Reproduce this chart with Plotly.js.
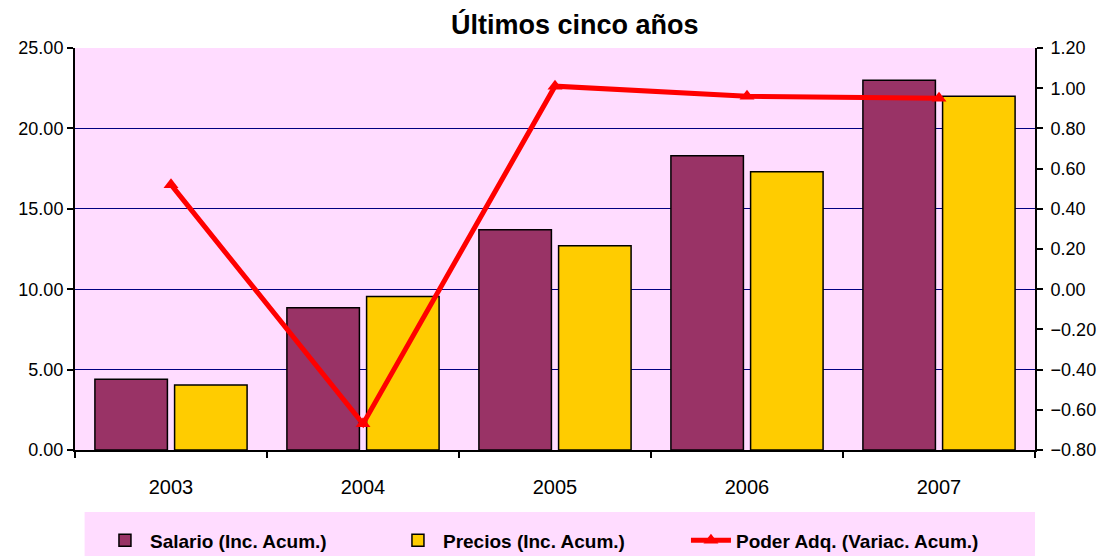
<!DOCTYPE html>
<html>
<head>
<meta charset="utf-8">
<script src="https://cdn.plot.ly/plotly-3.0.1.min.js"></script>
<style>html,body{margin:0;padding:0;background:#fff;}#chart{width:1099px;height:556px;}</style>
</head>
<body>
<div id="chart"></div>
<script>
const years = ['2003', '2004', '2005', '2006', '2007'];
const salario = [4.4, 8.85, 13.7, 18.3, 23.0];
const precios = [4.05, 9.55, 12.7, 17.3, 22.0];
const poder = [0.52, -0.67, 1.01, 0.96, 0.95];
const leftTicks = [0, 5, 10, 15, 20, 25];
const rightTicks = [-0.8, -0.6, -0.4, -0.2, 0, 0.2, 0.4, 0.6, 0.8, 1.0, 1.2];

const traces = [
  {type: 'bar', name: 'Salario (Inc. Acum.)', x: years, y: salario,
   marker: {color: '#993366', line: {color: '#000', width: 1.5}}},
  {type: 'bar', name: 'Precios (Inc. Acum.)', x: years, y: precios,
   marker: {color: '#FFCC00', line: {color: '#000', width: 1.5}}},
  {type: 'scatter', mode: 'lines+markers', name: 'Poder Adq. (Variac. Acum.)', x: years, y: poder,
   yaxis: 'y2', line: {color: '#FF0000', width: 5},
   marker: {symbol: 'triangle-up', size: 13, color: '#FF0000'}}
];

const layout = {
  width: 1099, height: 556,
  margin: {l: 75, r: 64, t: 48, b: 106, autoexpand: false},
  paper_bgcolor: '#FFFFFF',
  plot_bgcolor: '#FFDCFF',
  font: {family: 'Liberation Sans, Arial, sans-serif', size: 17, color: '#000'},
  title: {text: '<b>Últimos cinco años</b>', x: 0.523, xanchor: 'center', y: 0.955, yanchor: 'middle',
          font: {size: 27, color: '#000'}},
  barmode: 'group', bargap: 0.17, bargroupgap: 0.09,
  xaxis: {type: 'category', showline: true, linecolor: '#000', linewidth: 2, mirror: false,
          ticks: 'outside', tickson: 'boundaries', ticklen: 6, tickwidth: 2, tickcolor: '#000',
          showgrid: false, tickfont: {size: 20}, ticklabelstandoff: 18},
  yaxis: {range: [0, 25], tickvals: leftTicks, tickformat: '.2f', showline: true, linecolor: '#000',
          linewidth: 2, ticks: 'outside', ticklen: 6, tickwidth: 2, tickcolor: '#000',
          showgrid: true, gridcolor: '#000080', gridwidth: 1.2, zeroline: false, tickfont: {size: 18}},
  yaxis2: {range: [-0.8, 1.2], tickvals: rightTicks, tickformat: '.2f', overlaying: 'y', side: 'right',
           showline: true, linecolor: '#000', linewidth: 2, ticks: 'outside', ticklen: 6, tickwidth: 2,
           tickcolor: '#000', showgrid: false, zeroline: false, tickfont: {size: 18}, ticklabelstandoff: 4},
  showlegend: true,
  legend: {orientation: 'h', x: 0.026, xanchor: 'left', y: -0.225, yanchor: 'middle',
           bgcolor: 'rgba(0,0,0,0)', font: {size: 19, family: 'Liberation Sans, Arial, sans-serif', weight: 'bold'},
           traceorder: 'normal', itemwidth: 40, entrywidth: 238, entrywidthmode: 'pixels'},
  shapes: [{type: 'rect', xref: 'paper', yref: 'paper', x0: 0.01, x1: 1.0, y0: -0.264, y1: -0.154,
            fillcolor: '#FFDCFF', line: {width: 0}, layer: 'below'}]
};

Plotly.newPlot('chart', traces, layout, {displayModeBar: false});
</script>
</body>
</html>
